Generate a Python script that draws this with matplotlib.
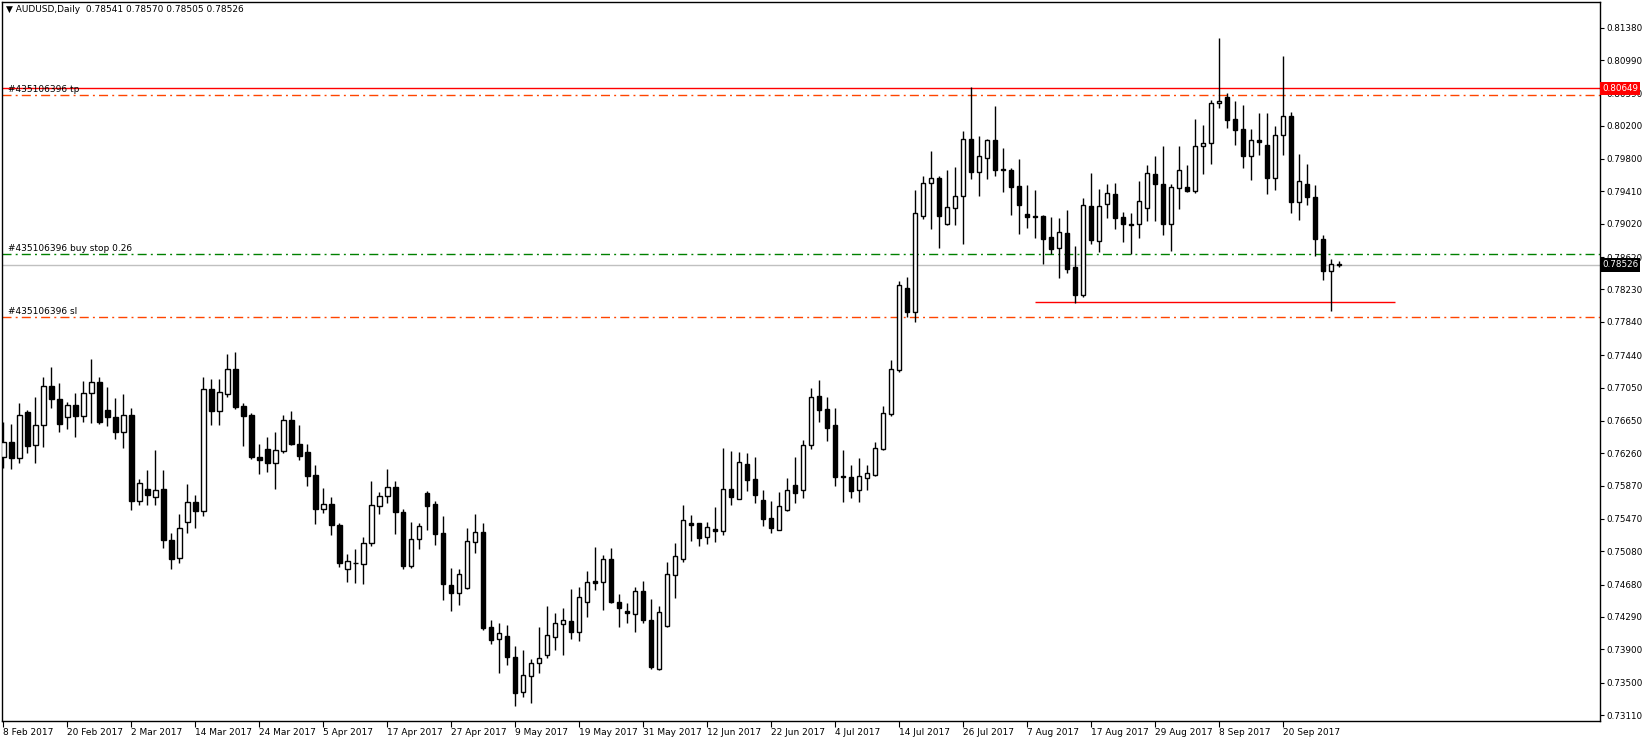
import numpy as np
import pandas as pd
import matplotlib
matplotlib.use("Agg")
import matplotlib.pyplot as plt
import matplotlib.transforms as mtransforms

# AUDUSD daily candles (8 Feb 2017 .. 29 Sep 2017)
opens = [0.76219, 0.76399, 0.76199, 0.76752, 0.76355, 0.76596, 0.77065, 0.76912, 0.76692, 0.76836,
         0.76712, 0.76980, 0.77113, 0.76776, 0.76692, 0.76519, 0.76720, 0.75685, 0.75826, 0.75737,
         0.75826, 0.75216, 0.74996, 0.75429, 0.75669, 0.75561, 0.77029, 0.76772, 0.76969, 0.77269,
         0.76824, 0.76720, 0.76219, 0.76307, 0.76139, 0.76291, 0.76656, 0.76367, 0.76271, 0.75994,
         0.75593, 0.75645, 0.75397, 0.74863, 0.74940, 0.74923, 0.75176, 0.75621, 0.75741, 0.75850,
         0.75549, 0.74907, 0.75224, 0.75778, 0.75645, 0.75296, 0.74671, 0.74575, 0.74635, 0.75188,
         0.75308, 0.74165, 0.74021, 0.74061, 0.73804, 0.73383, 0.73580, 0.73732, 0.73828, 0.74053,
         0.74201, 0.74241, 0.74113, 0.74466, 0.74718, 0.74714, 0.74983, 0.74470, 0.74362, 0.74321,
         0.74598, 0.74253, 0.73660, 0.74177, 0.74791, 0.74992, 0.75417, 0.75417, 0.75256, 0.75348,
         0.75320, 0.75826, 0.75713, 0.76130, 0.75950, 0.75697, 0.75481, 0.75340, 0.75573, 0.75874,
         0.75822, 0.76355, 0.76948, 0.76788, 0.76596, 0.75980, 0.75978, 0.75814, 0.75958, 0.76002,
         0.76307, 0.76728, 0.77261, 0.78244, 0.77963, 0.79118, 0.79507, 0.79567, 0.79014, 0.79206,
         0.79350, 0.80036, 0.79647, 0.79808, 0.80024, 0.79675, 0.79667, 0.79471, 0.79134, 0.79114,
         0.79114, 0.78857, 0.78725, 0.78905, 0.78496, 0.78168, 0.79230, 0.78817, 0.79254, 0.79375,
         0.79102, 0.79014, 0.79022, 0.79206, 0.79615, 0.79495, 0.79021, 0.79446, 0.79458, 0.79410,
         0.79951, 0.79987, 0.80469, 0.80541, 0.80276, 0.80156, 0.79839, 0.80024, 0.79967, 0.79574,
         0.80084, 0.80316, 0.79278, 0.79498, 0.79342, 0.78833, 0.78452, 0.78541]
highs = [0.76640, 0.76612, 0.76860, 0.76780, 0.76940, 0.77173, 0.77293, 0.77101, 0.76872, 0.76980,
         0.77125, 0.77390, 0.77173, 0.77053, 0.76920, 0.76969, 0.76800, 0.75946, 0.76058, 0.76298,
         0.76058, 0.75296, 0.75525, 0.75890, 0.75758, 0.77173, 0.77153, 0.77153, 0.77454, 0.77478,
         0.76860, 0.76740, 0.76371, 0.76455, 0.76511, 0.76720, 0.76768, 0.76600, 0.76371, 0.76118,
         0.75838, 0.75734, 0.75425, 0.75048, 0.75104, 0.75252, 0.75926, 0.75790, 0.76066, 0.75926,
         0.75589, 0.75433, 0.75417, 0.75806, 0.75681, 0.75501, 0.74875, 0.74863, 0.75360, 0.75525,
         0.75417, 0.74250, 0.74213, 0.74189, 0.73937, 0.73892, 0.73780, 0.74165, 0.74418, 0.74334,
         0.74394, 0.74622, 0.74646, 0.74839, 0.75131, 0.75035, 0.75115, 0.74562, 0.74454, 0.74646,
         0.74722, 0.74506, 0.74422, 0.74951, 0.75176, 0.75633, 0.75513, 0.75425, 0.75429, 0.75609,
         0.76319, 0.76283, 0.76271, 0.76259, 0.76211, 0.75818, 0.75685, 0.75790, 0.75958, 0.76211,
         0.76415, 0.77044, 0.77140, 0.76936, 0.76800, 0.76299, 0.76118, 0.76199, 0.76118, 0.76391,
         0.76828, 0.77382, 0.78336, 0.78384, 0.79427, 0.79595, 0.79896, 0.79595, 0.79667, 0.79699,
         0.80136, 0.80662, 0.80076, 0.80036, 0.80437, 0.79928, 0.79691, 0.79796, 0.79487, 0.79427,
         0.79126, 0.79102, 0.79090, 0.79186, 0.78753, 0.79330, 0.79631, 0.79439, 0.79499, 0.79507,
         0.79162, 0.79150, 0.79535, 0.79727, 0.79836, 0.79956, 0.79498, 0.79955, 0.79727, 0.80280,
         0.80208, 0.80505, 0.81251, 0.80589, 0.80493, 0.80449, 0.80160, 0.80352, 0.80352, 0.80196,
         0.81038, 0.80364, 0.79859, 0.79739, 0.79486, 0.78885, 0.78592, 0.78570]
lows = [0.76078, 0.76066, 0.76147, 0.76267, 0.76147, 0.76339, 0.76808, 0.76519, 0.76556, 0.76459,
        0.76636, 0.76620, 0.76612, 0.76592, 0.76431, 0.76327, 0.75577, 0.75637, 0.75637, 0.75637,
        0.75120, 0.74863, 0.74936, 0.75296, 0.75356, 0.75509, 0.76604, 0.76604, 0.76941, 0.76796,
        0.76351, 0.76187, 0.76006, 0.76034, 0.75834, 0.76267, 0.76359, 0.76179, 0.75870, 0.75413,
        0.75545, 0.75276, 0.74895, 0.74715, 0.74695, 0.74683, 0.75148, 0.75533, 0.75665, 0.75292,
        0.74871, 0.74883, 0.75112, 0.75336, 0.75160, 0.74498, 0.74358, 0.74430, 0.74627, 0.75064,
        0.74137, 0.73961, 0.73620, 0.73716, 0.73223, 0.73331, 0.73259, 0.73620, 0.73800, 0.73896,
        0.73836, 0.74029, 0.74005, 0.74293, 0.74614, 0.74374, 0.74462, 0.74173, 0.74221, 0.74113,
        0.74213, 0.73668, 0.73652, 0.74169, 0.74522, 0.74955, 0.75208, 0.75144, 0.75168, 0.75192,
        0.75276, 0.75637, 0.75705, 0.75806, 0.75661, 0.75385, 0.75304, 0.75332, 0.75565, 0.75661,
        0.75721, 0.76307, 0.76639, 0.76407, 0.75870, 0.75677, 0.75726, 0.75677, 0.75818, 0.75990,
        0.76299, 0.76712, 0.77237, 0.77903, 0.77843, 0.79078, 0.78958, 0.78733, 0.79006, 0.79006,
        0.78773, 0.79555, 0.79358, 0.79555, 0.79599, 0.79407, 0.79130, 0.78897, 0.78974, 0.78853,
        0.78532, 0.78661, 0.78372, 0.78432, 0.78063, 0.78144, 0.78777, 0.78681, 0.79094, 0.78962,
        0.78801, 0.78653, 0.78845, 0.79050, 0.79050, 0.78889, 0.78696, 0.79201, 0.79406, 0.79394,
        0.79623, 0.79735, 0.80417, 0.80176, 0.79971, 0.79695, 0.79550, 0.79851, 0.79382, 0.79430,
        0.79851, 0.79153, 0.79069, 0.79250, 0.78636, 0.78347, 0.77974, 0.78505]
closes = [0.76399, 0.76199, 0.76720, 0.76351, 0.76596, 0.77065, 0.76908, 0.76616, 0.76836, 0.76712,
          0.76980, 0.77113, 0.76640, 0.76692, 0.76519, 0.76724, 0.75685, 0.75898, 0.75757, 0.75817,
          0.75216, 0.74992, 0.75356, 0.75669, 0.75561, 0.77029, 0.76772, 0.76993, 0.77269, 0.76820,
          0.76712, 0.76219, 0.76179, 0.76139, 0.76295, 0.76656, 0.76367, 0.76231, 0.75990, 0.75593,
          0.75645, 0.75401, 0.74943, 0.74963, 0.74935, 0.75176, 0.75633, 0.75741, 0.75850, 0.75549,
          0.74907, 0.75224, 0.75381, 0.75629, 0.75292, 0.74683, 0.74575, 0.74803, 0.75200, 0.75308,
          0.74161, 0.74017, 0.74093, 0.73804, 0.73371, 0.73588, 0.73732, 0.73792, 0.74069, 0.74213,
          0.74249, 0.74113, 0.74526, 0.74706, 0.74702, 0.74983, 0.74474, 0.74402, 0.74334, 0.74598,
          0.74249, 0.73684, 0.74346, 0.74803, 0.75024, 0.75453, 0.75401, 0.75236, 0.75368, 0.75320,
          0.75826, 0.75737, 0.76150, 0.75938, 0.75757, 0.75469, 0.75360, 0.75621, 0.75814, 0.75781,
          0.76355, 0.76940, 0.76780, 0.76568, 0.75978, 0.75975, 0.75802, 0.75990, 0.76018, 0.76319,
          0.76740, 0.77269, 0.78280, 0.77963, 0.79146, 0.79507, 0.79567, 0.79118, 0.79218, 0.79350,
          0.80036, 0.79647, 0.79832, 0.80024, 0.79663, 0.79663, 0.79467, 0.79250, 0.79106, 0.79098,
          0.78841, 0.78721, 0.78917, 0.78480, 0.78168, 0.79242, 0.78829, 0.79230, 0.79387, 0.79094,
          0.79022, 0.79010, 0.79290, 0.79627, 0.79495, 0.79022, 0.79458, 0.79663, 0.79410, 0.79951,
          0.79987, 0.80469, 0.80501, 0.80272, 0.80152, 0.79839, 0.80024, 0.80000, 0.79574, 0.80084,
          0.80316, 0.79286, 0.79534, 0.79346, 0.78841, 0.78456, 0.78536, 0.78526]

price_ticks = [0.81380, 0.80990, 0.80590, 0.80200, 0.79800, 0.79410, 0.79020, 0.78620, 0.78230,
               0.77840, 0.77440, 0.77050, 0.76650, 0.76260, 0.75870, 0.75470, 0.75080, 0.74680,
               0.74290, 0.73900, 0.73500, 0.73110]

# order levels and lines
line_price = 0.80649
tp_price = 0.80565
buy_stop_price = 0.78652
bid_price = 0.78526
sl_price = 0.77895
support_price = 0.78079
support_start, support_end = 129, 174

order_id = "#435106396"
header = "\u25bc AUDUSD,Daily  0.78541 0.78570 0.78505 0.78526"

dates = pd.bdate_range("2017-02-08", periods=len(opens))
x = np.arange(len(opens))
o = np.array(opens)
c = np.array(closes)
up = c > o

fig = plt.figure(figsize=(16.43, 7.43), dpi=100)
ax = fig.add_axes([2 / 1643, 22 / 743, 1598 / 1643, 719 / 743])
ax.set_xlim(-0.16, 199.6)
ax.set_ylim(0.73038, 0.81688)

# candles
ax.vlines(x, lows, highs, color="black", linewidth=1.0, zorder=3)
ax.bar(x[up], (c - o)[up], bottom=o[up], width=0.56, facecolor="white",
       edgecolor="black", linewidth=1.0, zorder=4)
ax.bar(x[~up], (o - c)[~up], bottom=c[~up], width=0.56, facecolor="black",
       edgecolor="black", linewidth=1.0, zorder=4)

# levels
dashdot = (0, (6.5, 3, 1.4, 3))
ax.axhline(line_price, color="#ff0000", linewidth=1.0, zorder=2)
ax.axhline(tp_price, color="#ff4500", linewidth=1.0, linestyle=dashdot, zorder=2)
ax.axhline(buy_stop_price, color="#008000", linewidth=1.0, linestyle=dashdot, zorder=2)
ax.axhline(bid_price, color="#c0c0c0", linewidth=1.0, zorder=1)
ax.axhline(sl_price, color="#ff4500", linewidth=1.0, linestyle=dashdot, zorder=2)
ax.hlines(support_price, support_start, support_end, color="#ff0000", linewidth=1.0, zorder=2)

trans = mtransforms.blended_transform_factory(ax.transAxes, ax.transData)
off = mtransforms.offset_copy(trans, fig=fig, x=6, y=1, units="dots")
for price, txt in [(tp_price, order_id + " tp"),
                   (buy_stop_price, order_id + " buy stop 0.26"),
                   (sl_price, order_id + " sl")]:
    ax.text(0, price, txt, transform=off, fontsize=6.5, color="black",
            ha="left", va="bottom", zorder=5)

# chart header
ax.text(0, 1, header,
        transform=mtransforms.offset_copy(ax.transAxes, fig=fig, x=4, y=-3, units="dots"),
        fontsize=6.5, ha="left", va="top", zorder=6)

# right price axis
ax.yaxis.tick_right()
ax.set_yticks(price_ticks)
ax.set_yticklabels(["%.5f" % p for p in price_ticks])
ax.tick_params(axis="y", direction="out", length=3, pad=1.5, labelsize=6.3, width=0.8)

tag = mtransforms.offset_copy(trans, fig=fig, x=2, y=0, units="dots")
ax.text(1.0, line_price, "%.5f" % line_price, transform=tag, fontsize=6.3, color="white",
        ha="left", va="center", zorder=10, clip_on=False,
        bbox=dict(boxstyle="square,pad=0.25", facecolor="#ff0000", edgecolor="none"))
ax.text(1.0, bid_price, "%.5f" % bid_price, transform=tag, fontsize=6.3, color="white",
        ha="left", va="center", zorder=10, clip_on=False,
        bbox=dict(boxstyle="square,pad=0.25", facecolor="black", edgecolor="none"))

# date axis
tick_idx = x[::8]
ax.set_xticks(tick_idx)
ax.set_xticklabels(["%d %s" % (d.day, d.strftime("%b %Y")) for d in dates[tick_idx]])
ax.tick_params(axis="x", direction="out", length=4, pad=1, labelsize=6.5, width=0.8)
for lab in ax.get_xticklabels():
    lab.set_ha("left")

for sp in ax.spines.values():
    sp.set_linewidth(1.0)
    sp.set_color("black")

fig.savefig("out.png", dpi=100, facecolor="white")
